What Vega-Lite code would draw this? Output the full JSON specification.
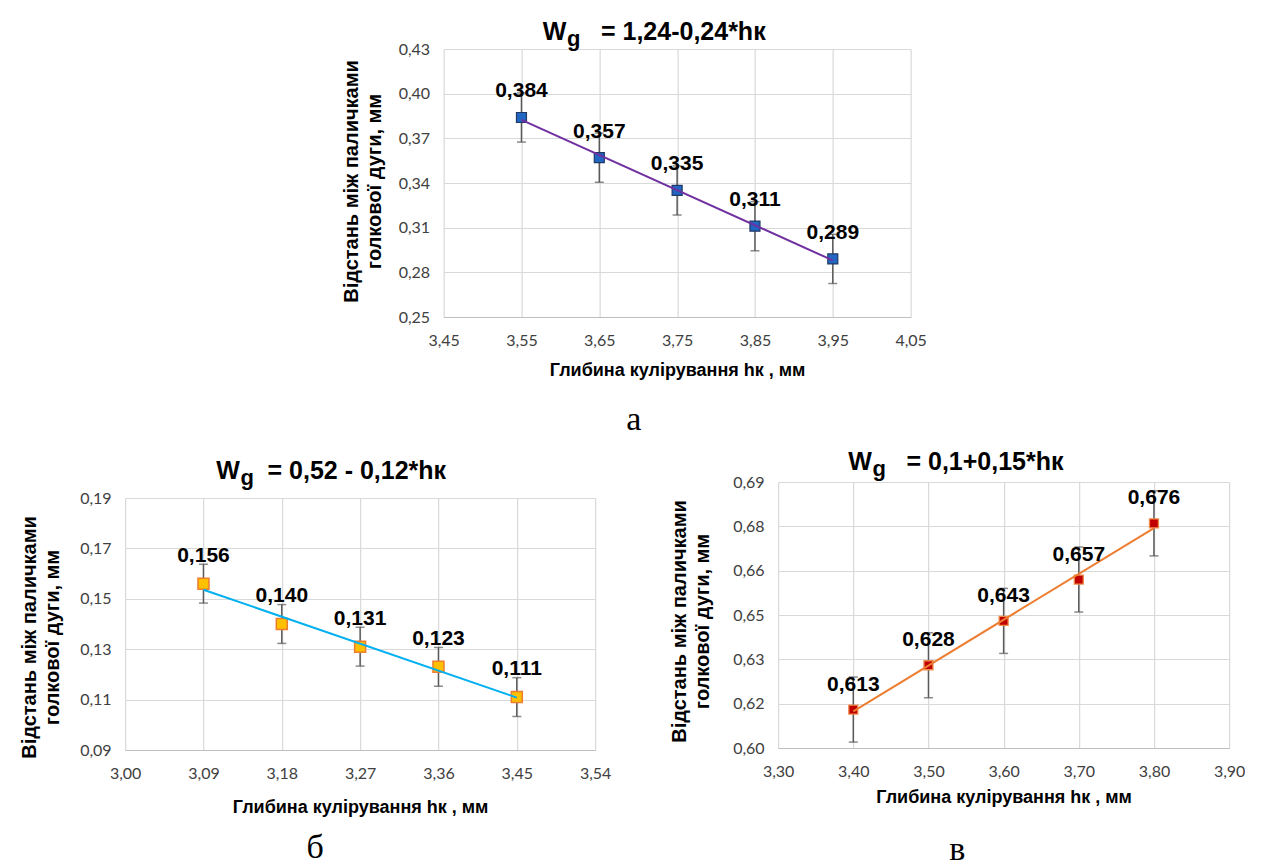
{
  "$schema": "https://vega.github.io/schema/vega-lite/v6.json",
  "padding": {"left": 19, "top": 20, "right": 0, "bottom": 0},
  "background": "white",
  "config": {
    "locale": {"number": {"decimal": ",", "thousands": " ", "grouping": [3], "currency": ["", ""]}},
    "view": {"stroke": null},
    "axis": {"gridColor": "#D9D9D9", "gridWidth": 1.2, "ticks": false, "tickSize": 0, "labelFont": "Lato", "labelFontSize": 16, "labelColor": "#404040", "labelFlush": false, "labelOverlap": false, "titleFont": "Liberation Sans", "titleFontSize": 20, "titleFontWeight": "bold", "titleColor": "#000000", "domainColor": "#BFBFBF", "domainWidth": 1.2},
    "axisY": {"domain": false, "labelPadding": 14, "titlePadding": 14, "titleLineHeight": 23},
    "axisX": {"labelPadding": 15, "titleFontSize": 18},
    "text": {"font": "Liberation Sans"}
  },
  "datasets": {
    "a": [
      {"h": 3.55, "w": 0.384, "err": 0.0165},
      {"h": 3.65, "w": 0.357, "err": 0.0165},
      {"h": 3.75, "w": 0.335, "err": 0.0165},
      {"h": 3.85, "w": 0.311, "err": 0.0165},
      {"h": 3.95, "w": 0.289, "err": 0.0165}
    ],
    "b": [
      {"h": 3.09, "w": 0.156, "err": 0.0077},
      {"h": 3.18, "w": 0.140, "err": 0.0077},
      {"h": 3.27, "w": 0.131, "err": 0.0077},
      {"h": 3.36, "w": 0.123, "err": 0.0077},
      {"h": 3.45, "w": 0.111, "err": 0.0077}
    ],
    "v": [
      {"h": 3.40, "w": 0.613, "err": 0.011},
      {"h": 3.50, "w": 0.628, "err": 0.011},
      {"h": 3.60, "w": 0.643, "err": 0.011},
      {"h": 3.70, "w": 0.657, "err": 0.011},
      {"h": 3.80, "w": 0.676, "err": 0.011}
    ],
    "spacer": [{"s": 0}]
  },
  "vconcat": [
    {
      "title": {"text": "а", "orient": "bottom", "anchor": "middle", "font": "Liberation Serif", "fontSize": 34, "fontWeight": "normal", "color": "#000000", "offset": 24},
      "vconcat": [
        {
          "width": 467, "height": 268,
          "title": {"text": "W\u00a0\u00a0\u00a0\u00a0\u00a0= 1,24-0,24*hк", "subtitle": "\u200b\u00a0\u00a0\u00a0\u00a0g", "anchor": "start", "frame": "group", "dx": 99, "offset": -9, "font": "Liberation Sans", "fontSize": 25, "fontWeight": "bold", "color": "#000000", "subtitleFont": "Liberation Sans", "subtitleFontSize": 22, "subtitleFontWeight": "bold", "subtitleColor": "#000000", "subtitlePadding": -16},
          "data": {"name": "a"},
          "encoding": {
            "x": {"field": "h", "type": "quantitative", "scale": {"domain": [3.45, 4.05], "nice": false, "zero": false},
              "axis": {"values": [3.45, 3.55, 3.65, 3.75, 3.85, 3.95, 4.05], "labelExpr": "replace(format(datum.value + 1e-9, '.2f'), '.', ',')", "title": "Глибина кулірування hк , мм", "titlePadding": 13}},
            "y": {"field": "w", "type": "quantitative", "scale": {"domain": [0.25, 0.43], "nice": false, "zero": false},
              "axis": {"values": [0.25, 0.28, 0.31, 0.34, 0.37, 0.40, 0.43], "labelExpr": "replace(format(datum.value + 1e-9, '.2f'), '.', ',')", "title": ["Відстань  між паличками", "голкової дуги, мм"], "titleY": 132}}
          },
          "layer": [
            {"mark": {"type": "errorbar", "ticks": true, "size": 9, "thickness": 1.5, "color": "#595959"}, "encoding": {"yError": {"field": "err"}}},
            {"mark": {"type": "point", "shape": "square", "size": 100, "filled": true, "fill": "#2266C4", "stroke": "#1F3864", "strokeWidth": 1.2, "opacity": 1}},
            {"transform": [{"regression": "w", "on": "h"}], "mark": {"type": "line", "color": "#7030A0", "strokeWidth": 2}},
            {"mark": {"type": "text", "dy": -26, "fontSize": 21, "fontWeight": "bold", "color": "#000000"}, "encoding": {"text": {"field": "w", "type": "quantitative", "format": ".3f"}}}
          ]
        }
      ]
    },
    {
      "spacing": 58,
      "hconcat": [
        {
          "title": {"text": "б", "orient": "bottom", "anchor": "middle", "font": "Liberation Serif", "fontSize": 34, "fontWeight": "normal", "color": "#000000", "offset": 15},
          "spacing": 9,
          "vconcat": [
            {"width": 1, "height": 1, "data": {"name": "spacer"}, "mark": {"type": "point", "opacity": 0, "size": 0}, "encoding": {}},
            {
              "width": 470, "height": 252,
              "title": {"text": "W\u00a0\u00a0\u00a0\u00a0= 0,52 - 0,12*hк", "subtitle": "\u200b\u00a0\u00a0\u00a0\u00a0g", "anchor": "start", "frame": "group", "dx": 91, "offset": 1, "font": "Liberation Sans", "fontSize": 25, "fontWeight": "bold", "color": "#000000", "subtitleFont": "Liberation Sans", "subtitleFontSize": 22, "subtitleFontWeight": "bold", "subtitleColor": "#000000", "subtitlePadding": -16},
              "data": {"name": "b"},
              "encoding": {
                "x": {"field": "h", "type": "quantitative", "scale": {"domain": [3.0, 3.54], "nice": false, "zero": false},
                  "axis": {"values": [3.0, 3.09, 3.18, 3.27, 3.36, 3.45, 3.54], "labelExpr": "replace(format(datum.value + 1e-9, '.2f'), '.', ',')", "title": "Глибина кулірування hк , мм", "titlePadding": 17}},
                "y": {"field": "w", "type": "quantitative", "scale": {"domain": [0.09, 0.19], "nice": false, "zero": false},
                  "axis": {"values": [0.09, 0.11, 0.13, 0.15, 0.17, 0.19], "labelExpr": "replace(format(datum.value + 1e-9, '.2f'), '.', ',')", "title": ["Відстань  між паличками", "голкової дуги, мм"], "titleY": 139, "titlePadding": 17}}
              },
              "layer": [
                {"mark": {"type": "errorbar", "ticks": true, "size": 9, "thickness": 1.5, "color": "#595959"}, "encoding": {"yError": {"field": "err"}}},
                {"mark": {"type": "point", "shape": "square", "size": 121, "filled": true, "fill": "#FFC000", "stroke": "#ED7D31", "strokeWidth": 1.5, "opacity": 1}},
                {"transform": [{"regression": "w", "on": "h"}], "mark": {"type": "line", "color": "#00B0F0", "strokeWidth": 2}},
                {"mark": {"type": "text", "dy": -28, "fontSize": 21, "fontWeight": "bold", "color": "#000000"}, "encoding": {"text": {"field": "w", "type": "quantitative", "format": ".3f"}}}
              ]
            }
          ]
        },
        {
          "title": {"text": "в", "orient": "bottom", "anchor": "middle", "font": "Liberation Serif", "fontSize": 34, "fontWeight": "normal", "color": "#000000", "offset": 27},
          "spacing": 0,
          "vconcat": [
            {"width": 1, "height": 1, "data": {"name": "spacer"}, "mark": {"type": "point", "opacity": 0, "size": 0}, "encoding": {}},
            {
              "width": 451, "height": 266,
              "title": {"text": "W\u00a0\u00a0\u00a0\u00a0\u00a0= 0,1+0,15*hк", "subtitle": "\u200b\u00a0\u00a0\u00a0\u00a0g", "anchor": "start", "frame": "group", "dx": 70, "offset": -6, "font": "Liberation Sans", "fontSize": 25, "fontWeight": "bold", "color": "#000000", "subtitleFont": "Liberation Sans", "subtitleFontSize": 22, "subtitleFontWeight": "bold", "subtitleColor": "#000000", "subtitlePadding": -16},
              "data": {"name": "v"},
              "encoding": {
                "x": {"field": "h", "type": "quantitative", "scale": {"domain": [3.3, 3.9], "nice": false, "zero": false},
                  "axis": {"values": [3.3, 3.4, 3.5, 3.6, 3.7, 3.8, 3.9], "labelExpr": "replace(format(datum.value + 1e-9, '.2f'), '.', ',')", "title": "Глибина кулірування hк , мм", "titlePadding": 9}},
                "y": {"field": "w", "type": "quantitative", "scale": {"domain": [0.6, 0.69], "nice": false, "zero": false},
                  "axis": {"values": [0.6, 0.615, 0.63, 0.645, 0.66, 0.675, 0.69], "labelExpr": "replace(format(datum.value + 1e-9, '.2f'), '.', ',')", "title": ["Відстань  між паличками", "голкової дуги, мм"], "titlePadding": 20, "titleY": 139}}
              },
              "layer": [
                {"mark": {"type": "errorbar", "ticks": true, "size": 9, "thickness": 1.5, "color": "#595959"}, "encoding": {"yError": {"field": "err"}}},
                {"mark": {"type": "point", "shape": "square", "size": 81, "filled": true, "fill": "#C00000", "stroke": "#F08C4A", "strokeWidth": 1.3, "opacity": 1}},
                {"transform": [{"regression": "w", "on": "h"}], "mark": {"type": "line", "color": "#ED7D31", "strokeWidth": 2}},
                {"mark": {"type": "text", "dy": -25, "fontSize": 21, "fontWeight": "bold", "color": "#000000"}, "encoding": {"text": {"field": "w", "type": "quantitative", "format": ".3f"}}}
              ]
            }
          ]
        }
      ]
    }
  ],
  "center": true,
  "spacing": 12
}
